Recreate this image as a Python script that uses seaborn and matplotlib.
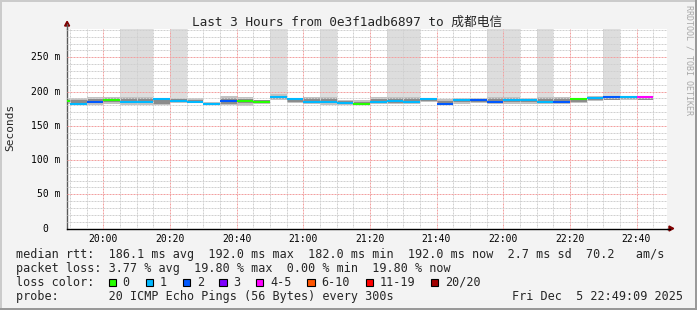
import matplotlib
matplotlib.use("Agg")
import numpy as np
import pandas as pd
import matplotlib.pyplot as plt
import matplotlib.transforms as mtransforms
import seaborn as sns
from matplotlib.patches import Rectangle, Polygon
from matplotlib.lines import Line2D
from matplotlib.ticker import FixedLocator

# ---------------- data ----------------
title = "Last 3 Hours from 0e3f1adb6897 to 成都电信"
window_start = "19:49:09"
window_end = "22:49:09"

step_start = ["19:45", "19:50", "19:55", "20:00", "20:05", "20:10", "20:15", "20:20", "20:25",
              "20:30", "20:35", "20:40", "20:45", "20:50", "20:55", "21:00", "21:05", "21:10",
              "21:15", "21:20", "21:25", "21:30", "21:35", "21:40", "21:45", "21:50", "21:55",
              "22:00", "22:05", "22:10", "22:15", "22:20", "22:25", "22:30", "22:35", "22:40"]
median_ms = [186, 182.5, 185, 187, 185, 185, 188.5, 186, 185,
             182, 185.5, 186.5, 184.5, 191.5, 188.5, 185, 185, 183,
             182, 185, 185.5, 185, 189, 182, 188, 187.5, 185,
             188, 188, 185, 185, 189.5, 190, 192, 191.5, 192]
loss_pings = [0, 1, 2, 0, 1, 1, 1, 1, 1,
              1, 2, 0, 0, 1, 1, 1, 1, 1,
              0, 1, 1, 1, 1, 2, 1, 2, 2,
              1, 1, 1, 2, 0, 1, 2, 1, 4]
smoke_lo = [182, 180, 180, 182, 181, 181, 181, 183, 183,
            181, 180, 179, 182, 188, 183, 182, 181, 181,
            180, 182, 182, 182, 185, 180, 182, 183, 182,
            182, 182, 182, 182, 183, 186, 187, 188, 187]
smoke_hi = [190, 190, 192.5, 192.5, 192.5, 192.5, 190, 190, 190,
            184, 193, 192, 188, 196, 191, 192.5, 192.5, 188,
            187, 192, 192, 192, 191, 189, 190, 190, 192.5,
            192.5, 190, 192.5, 192.5, 191, 193, 193, 193, 194]
core_lo = [184, 182, 183, 184, 184, 184, 182, 185, 184,
           181.5, 182, 183, 183, 189, 184, 184, 183, 182,
           181, 183, 183, 183, 186, 181, 184, 184, 183,
           184, 184, 184, 183, 185, 187, 188, 189, 188]
core_hi = [188, 188, 189, 190, 191, 191, 188, 189, 188,
           183, 190, 189, 187, 194, 189, 190, 190, 186,
           185, 189, 190, 190, 189.5, 186, 189, 189, 191,
           191, 189, 191, 190, 190, 192, 192.5, 192.5, 193]
# slowest ping of the step (nan = inside the smoke); values above the chart top
slowest_ms = [np.nan, np.nan, np.nan, np.nan, 400, 400, np.nan, 400, np.nan,
              np.nan, np.nan, np.nan, np.nan, 400, np.nan, np.nan, 400, np.nan,
              np.nan, np.nan, 400, 400, np.nan, np.nan, np.nan, np.nan, 400,
              400, np.nan, 400, np.nan, np.nan, np.nan, 400, np.nan, np.nan]

loss_labels = ["0", "1", "2", "3", "4-5", "6-10", "11-19", "20/20"]
loss_upper = [0, 1, 2, 3, 5, 10, 19, 20]
loss_colors = ["#26ff00", "#00b8ff", "#0059ff", "#7e00ff", "#ff00ff", "#ff5500", "#ff0000", "#a10000"]

x_tick_labels = ["20:00", "20:20", "20:40", "21:00", "21:20", "21:40", "22:00", "22:20", "22:40"]
y_tick_values = [0, 50, 100, 150, 200, 250]
y_tick_labels = ["0", "50 m", "100 m", "150 m", "200 m", "250 m"]

legend_rtt = "median rtt:  186.1 ms avg  192.0 ms max  182.0 ms min  192.0 ms now  2.7 ms sd  70.2   am/s"
legend_loss = "packet loss: 3.77 % avg  19.80 % max  0.00 % min  19.80 % now"
legend_probe = "probe:       20 ICMP Echo Pings (56 Bytes) every 300s"
stamp = "Fri Dec  5 22:49:09 2025"

# ---------------- style ----------------
sns.set_theme(style="white")
MONO = ["DejaVu Sans Mono", "Noto Sans CJK SC"]
plt.rcParams["font.family"] = MONO

W, H = 697, 310
fig = plt.figure(figsize=(W / 100, H / 100), dpi=100, facecolor="#f3f3f3")


def fx(x):
    return x / W


def fy(y):
    return 1 - y / H


AX_L, AX_R, AX_T, AX_B = 67, 667, 28.5, 228.5
ax = fig.add_axes([fx(AX_L), fy(AX_B), (AX_R - AX_L) / W, (AX_B - AX_T) / H])
ax.set_facecolor("white")


def tmin(s):
    parts = [int(p) for p in s.split(":")]
    sec = parts[2] if len(parts) > 2 else 0
    return (parts[0] - 19) * 60 + parts[1] + sec / 60


STEP = 5
x0 = np.array([tmin(s) for s in step_start])
lo = np.array(smoke_lo, float)
hi = np.array(smoke_hi, float)
clo = np.array(core_lo, float)
chi = np.array(core_hi, float)
slow = np.array(slowest_ms, float)

# smoke
m = ~np.isnan(slow)
ax.bar(x0[m], slow[m] - hi[m], bottom=hi[m], width=STEP, align="edge",
       color="#dddddd", linewidth=0, antialiased=False, zorder=1)
ax.bar(x0, hi - lo, bottom=lo, width=STEP, align="edge",
       color="#c2c2c2", linewidth=0, antialiased=False, zorder=1.1)
ax.bar(x0, chi - clo, bottom=clo, width=STEP, align="edge",
       color="#8c8c8c", linewidth=0, antialiased=False, zorder=1.2)


def loss_color(n):
    for up, c in zip(loss_upper, loss_colors):
        if n <= up:
            return c
    return loss_colors[-1]


rows = []
for i, (s, v) in enumerate(zip(x0, median_ms)):
    rows.append({"t": s, "ms": v, "step": f"s{i:02d}"})
    rows.append({"t": s + STEP, "ms": v, "step": f"s{i:02d}"})
df = pd.DataFrame(rows)
palette = {f"s{i:02d}": loss_color(n) for i, n in enumerate(loss_pings)}
sns.lineplot(data=df, x="t", y="ms", hue="step", palette=palette, legend=False, ax=ax,
             linewidth=1.5, estimator=None, sort=False, zorder=3, solid_capstyle="butt")

ax.set_xlim(tmin(window_start), tmin(window_end))
ax.set_ylim(0, 292)
ax.set_xlabel("")
ax.set_ylabel("")

xmaj = [tmin(l) for l in x_tick_labels]
xminor = [v for v in np.arange(50, 229, 5) if v not in xmaj]
ax.xaxis.set_major_locator(FixedLocator(xmaj))
ax.xaxis.set_minor_locator(FixedLocator(xminor))
ax.set_xticklabels(x_tick_labels)
ax.yaxis.set_major_locator(FixedLocator(y_tick_values))
ax.yaxis.set_minor_locator(FixedLocator([v for v in range(10, 292, 10) if v % 50]))

ax.set_axisbelow(False)
ax.grid(which="minor", color="#d0d0d0", lw=0.72, linestyle=(0, (2, 1)))
ax.grid(which="major", color="#f2a0a0", lw=0.72, linestyle=(0, (2, 1)))

ax.tick_params(axis="both", which="both", direction="out", color="#000000", width=0.72)
ax.tick_params(axis="both", which="major", length=2.2)
ax.tick_params(axis="both", which="minor", length=1.5)
ax.tick_params(axis="y", labelleft=False)
ax.tick_params(axis="x", labelsize=7, pad=1.5, labelcolor="black")
for lab in ax.get_xticklabels():
    lab.set_family(MONO)

for sp in ("top", "right"):
    ax.spines[sp].set_visible(False)
ax.spines["left"].set_color("#5a5a5a")
ax.spines["bottom"].set_color("#000000")
ax.spines["left"].set_linewidth(1)
ax.spines["bottom"].set_linewidth(1)

ytr = mtransforms.blended_transform_factory(fig.transFigure, ax.transData)
for v, lab in zip(y_tick_values, y_tick_labels):
    xr = 60.5 if " " in lab else 48
    ax.text(fx(xr), v, lab, transform=ytr, ha="right", va="center", fontsize=7,
            family=MONO, color="black")

# axis extensions and arrows
fig.add_artist(Line2D([fx(67), fx(67)], [fy(AX_T), fy(24)], color="#5a5a5a", lw=1,
                      transform=fig.transFigure))
fig.add_artist(Line2D([fx(AX_R), fx(670)], [fy(AX_B), fy(AX_B)], color="#000000", lw=1,
                      transform=fig.transFigure))
fig.add_artist(Polygon([(fx(64.6), fy(26)), (fx(69.6), fy(26)), (fx(67.1), fy(21.3))],
                       closed=True, color="#7f0000", transform=fig.transFigure))
fig.add_artist(Polygon([(fx(669), fy(226)), (fx(669), fy(231)), (fx(673.7), fy(228.5))],
                       closed=True, color="#7f0000", transform=fig.transFigure))

# texts
fig.text(fx(347), fy(22), title, ha="center", va="center", fontsize=9.2, family=MONO)
fig.text(fx(10), fy(127), "Seconds", rotation=90, ha="center", va="center", fontsize=8, family=MONO)
fig.text(fx(688.5), fy(60), "RRDTOOL / TOBI OETIKER", rotation=270, ha="center", va="center",
         fontsize=6, family=MONO, color="#a8a8a8")

LX = 15.5
fig.text(fx(LX), fy(254.3), legend_rtt, ha="left", va="center", fontsize=8.5, family=MONO)
fig.text(fx(LX), fy(268.3), legend_loss, ha="left", va="center", fontsize=8.5, family=MONO)
fig.text(fx(LX), fy(282.3), "loss color:", ha="left", va="center", fontsize=8.5, family=MONO)
fig.text(fx(LX), fy(296.2), legend_probe, ha="left", va="center", fontsize=8.5, family=MONO)
fig.text(fx(512.5), fy(296.2), stamp, ha="left", va="center", fontsize=8.5, family=MONO)

sq_x = [108.7, 145.7, 182.7, 219.3, 256, 307.3, 365.7, 430.7]
for sx, c, lab in zip(sq_x, loss_colors, loss_labels):
    fig.add_artist(Rectangle((fx(sx), fy(286)), 7.3 / W, 7.3 / H, facecolor=c,
                             edgecolor="black", lw=0.8, transform=fig.transFigure))
    fig.text(fx(sx + 14), fy(282.3), lab, ha="left", va="center", fontsize=8.5, family=MONO)

# frame
fig.add_artist(Rectangle((0, 0), 2 / W, 1, color="#cbcbcb", lw=0, transform=fig.transFigure))
fig.add_artist(Rectangle((0, 1 - 2 / H), 1, 2 / H, color="#cbcbcb", lw=0, transform=fig.transFigure))
fig.add_artist(Rectangle((1 - 2 / W, 0), 2 / W, 1, color="#999999", lw=0, transform=fig.transFigure))
fig.add_artist(Rectangle((0, 0), 1, 2 / H, color="#999999", lw=0, transform=fig.transFigure))

fig.savefig("out.png", dpi=100, facecolor=fig.get_facecolor())
